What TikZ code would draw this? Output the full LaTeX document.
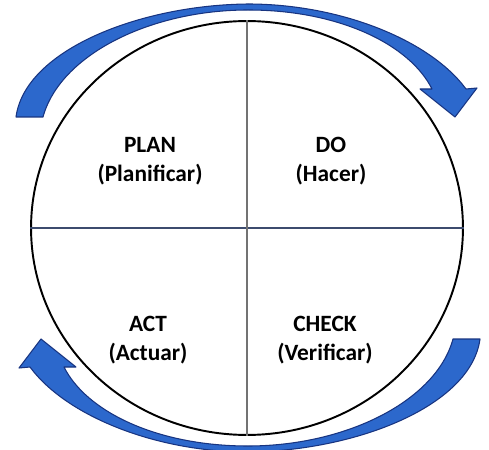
\documentclass[tikz,border=0pt]{standalone}
\usepackage{fontspec}
\setmainfont{Carlito}
\usetikzlibrary{shapes}

\begin{document}
\begin{tikzpicture}[x=0.02cm,y=0.02cm]
        \tikzstyle{cyclearrow}=[fill={rgb,255:red,44;green,104;blue,204},draw={rgb,255:red,24;green,52;blue,128},line width=0.6pt,line join=round]
        \tikzstyle{quadtext}=[font=\fontsize{13.3}{16.5}\selectfont\bfseries,align=center,inner sep=0pt]
        \useasboundingbox (-248,-221) rectangle (241,228);
        \foreach \a in {0,180}
          \path[cyclearrow,rotate=\a] (-232,111) .. controls (-223,178) and (-108,223) .. (0,224)
            .. controls (92,224) and (182,188) .. (218,139) -- (229,140) -- (207,111) -- (172,139) -- (184,139)
            .. controls (162,183) and (92,218) .. (0,218) .. controls (-98,218) and (-188,173) .. (-205,111) -- cycle;
        \node[draw,ellipse,line width=1.1pt,minimum width=8.64cm,minimum height=8.28cm,inner sep=0pt] (cycle) at (-1,0) {};
        \draw[draw={rgb,255:red,60;green,75;blue,110},line width=0.7pt] (cycle.west) -- (cycle.east);
        \draw[draw={rgb,255:red,115;green,115;blue,115},line width=0.7pt] (cycle.north) -- (cycle.south);
        \node[quadtext] (plan) at (-98,67) {PLAN\\(Planificar)};
        \node[quadtext] (do) at (83,67) {DO\\(Hacer)};
        \node[quadtext] (act) at (-100,-112) {ACT\\(Actuar)};
        \node[quadtext] (check) at (77,-112) {CHECK\\(Verificar)};
\end{tikzpicture}
\end{document}
